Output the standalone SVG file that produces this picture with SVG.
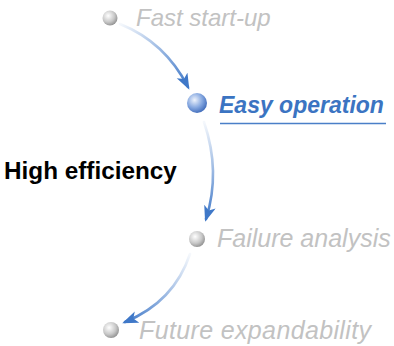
<svg xmlns="http://www.w3.org/2000/svg" width="394" height="346" viewBox="0 0 394 346">
<style>
.gray{font-family:"Liberation Sans",Arial,sans-serif;font-style:italic;font-size:24px;fill:#c2c2c2}
.big{font-size:25px}
.blue{font-family:"Liberation Sans",Arial,sans-serif;font-style:italic;font-weight:bold;font-size:23px;fill:#3b74c2}
.black{font-family:"Liberation Sans",Arial,sans-serif;font-weight:bold;font-size:24.3px;fill:#000}
.conn{fill:none;stroke-width:2.6;stroke-linecap:round}
</style>
<defs>
<radialGradient id="gball" cx="0.38" cy="0.35" r="0.7">
<stop offset="0" stop-color="#ffffff"/>
<stop offset="0.6" stop-color="#c8c8c8"/>
<stop offset="1" stop-color="#8e8e8e"/>
</radialGradient>
<radialGradient id="bball" cx="0.38" cy="0.35" r="0.7">
<stop offset="0" stop-color="#eef3fc"/>
<stop offset="0.55" stop-color="#86a8e0"/>
<stop offset="1" stop-color="#3c68b8"/>
</radialGradient>
<linearGradient id="l1" gradientUnits="userSpaceOnUse" x1="120" y1="24" x2="188" y2="88">
<stop offset="0" stop-color="#3f78c8" stop-opacity="0.05"/>
<stop offset="1" stop-color="#3f78c8"/>
</linearGradient>
<linearGradient id="l2" gradientUnits="userSpaceOnUse" x1="204" y1="122" x2="206" y2="220">
<stop offset="0" stop-color="#3f78c8" stop-opacity="0.05"/>
<stop offset="1" stop-color="#3f78c8"/>
</linearGradient>
<linearGradient id="l3" gradientUnits="userSpaceOnUse" x1="190" y1="254" x2="124" y2="323">
<stop offset="0" stop-color="#3f78c8" stop-opacity="0.05"/>
<stop offset="1" stop-color="#3f78c8"/>
</linearGradient>
<marker id="ah" markerUnits="userSpaceOnUse" markerWidth="18" markerHeight="14" refX="13" refY="6" orient="auto">
<path d="M0,0 L16,6 L0,12 L4,6 z" fill="#3f78c8"/>
</marker>
</defs>
<g id="connectors">
<path class="conn" stroke="url(#l1)" d="M120,24 Q165,42 188,87" marker-end="url(#ah)"/>
<path class="conn" stroke="url(#l2)" d="M204,122 Q221,172 206,219" marker-end="url(#ah)"/>
<path class="conn" stroke="url(#l3)" d="M190,254 Q174,302 125,322" marker-end="url(#ah)"/>
</g>
<g id="node-fast">
<circle cx="110" cy="18" r="7.5" fill="url(#gball)"/>
<text class="gray" x="136" y="26">Fast start-up</text>
</g>
<g id="node-easy">
<circle cx="197" cy="103" r="10" fill="url(#bball)"/>
<text class="blue" x="219" y="113">Easy operation</text>
<line x1="220" y1="123.5" x2="386" y2="123.5" stroke="#4a7fc8" stroke-width="1.5"/>
</g>
<g id="node-high">
<text class="black" x="4" y="179">High efficiency</text>
</g>
<g id="node-failure">
<circle cx="197" cy="239" r="8" fill="url(#gball)"/>
<text class="gray big" x="217" y="247">Failure analysis</text>
</g>
<g id="node-future">
<circle cx="111" cy="330" r="8" fill="url(#gball)"/>
<text class="gray big" x="139" y="339" textLength="232" lengthAdjust="spacing">Future expandability</text>
</g>
</svg>
